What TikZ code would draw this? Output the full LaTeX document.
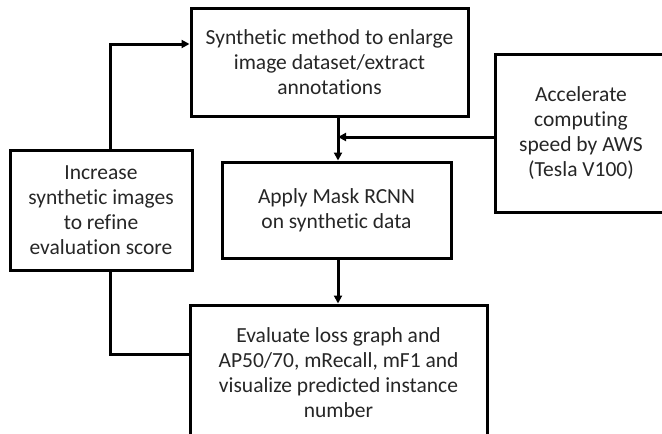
\documentclass[tikz,border=0pt]{standalone}
\usepackage{fontspec}
\setmainfont{Carlito}[Ligatures={NoCommon}]
\usetikzlibrary{arrows.meta}
\begin{document}
\begin{tikzpicture}[x=1pt,y=-1pt,
  box/.style={draw, line width=3pt, align=center, inner sep=0pt, text=black!85,
    font=\fontsize{21.5}{25}\selectfont},
  conn/.style={line width=3pt},
  arr/.style={conn, -{Triangle[length=8pt,width=8pt]}}]
\useasboundingbox (0,0) rectangle (662,434);
\clip (0,0) rectangle (662,434);
\node[box, minimum width=277pt, minimum height=108pt] (top) at (329.5,62)
  {Synthetic method to enlarge\\image dataset/extract\\annotations};
\node[box, minimum width=182pt, minimum height=120pt] (left) at (101,210)
  {Increase\\synthetic images\\to refine\\evaluation score};
\node[box, minimum width=229pt, minimum height=96pt] (mid) at (336.5,210)
  {Apply Mask RCNN\\on synthetic data};
\node[box, minimum width=172pt, minimum height=158pt] (right) at (581,133)
  {Accelerate\\computing\\speed by AWS\\(Tesla V100)};
\node[box, minimum width=297pt, minimum height=136pt] (bot) at (338.5,373)
  {Evaluate loss graph and\\AP50/70, mRecall, mF1 and\\visualize predicted instance\\number};
\coordinate (j) at (338,137);
\coordinate (la) at (110,44);
\coordinate (lb) at (110,354);
\draw[arr] (top.south -| j) -- (mid.north -| j);
\draw[arr] (right.west |- j) -- (j);
\draw[arr] (mid.south -| j) -- (bot.north -| j);
\draw[arr] (left.north -| la) |- (top.west |- la);
\draw[conn] (left.south -| lb) |- (bot.west |- lb);
\end{tikzpicture}
\end{document}
